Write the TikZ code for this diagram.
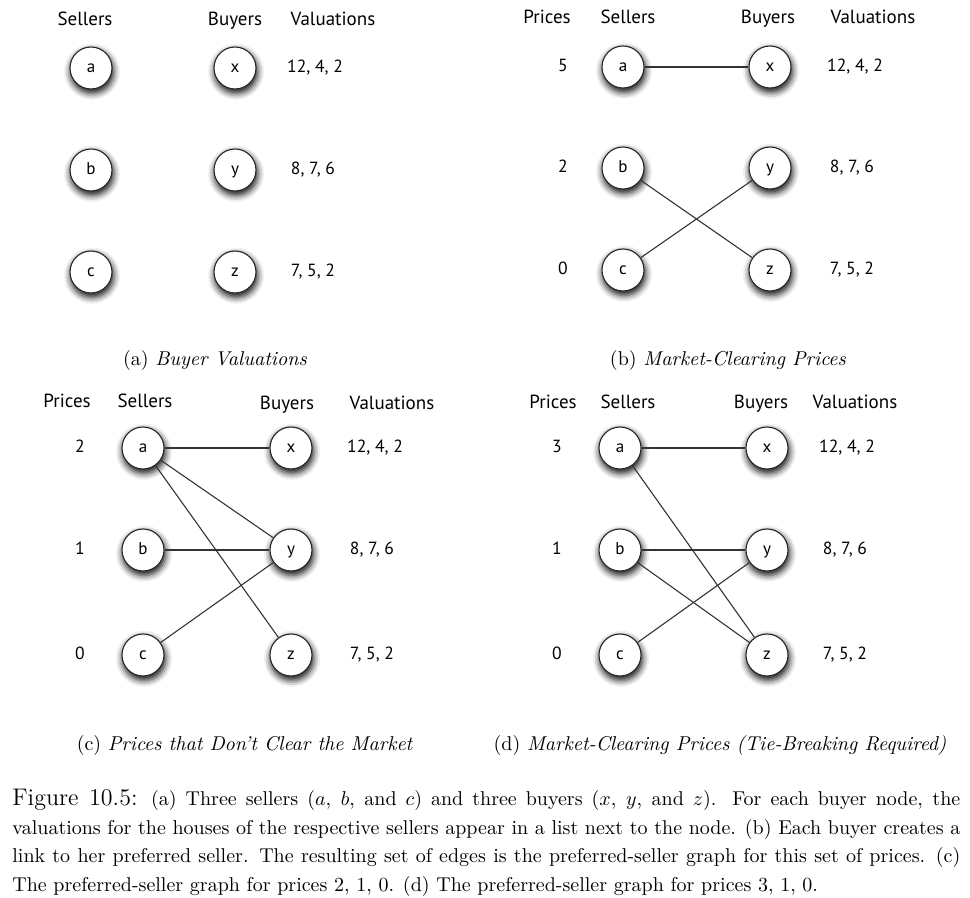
\documentclass[tikz,border=0pt]{standalone}
\usepackage{fontspec}
\newfontfamily\panelfont{PT Sans}
\usetikzlibrary{shadows.blur}
\begin{document}
\begin{tikzpicture}[x=0.5pt,y=-0.5pt,
  vert/.style={circle,draw=black!85,line width=0.55pt,fill=white,minimum size=21pt,inner sep=0pt,
    text height=1.05ex,text depth=0pt,
    font=\panelfont\fontsize{8.5}{9}\selectfont,
    blur shadow={shadow xshift=0.5pt,shadow yshift=-1.8pt,shadow scale=1.04,shadow blur radius=3pt,shadow opacity=90}},
  hdr/.style={font=\panelfont\fontsize{9.5}{11}\selectfont,inner sep=0pt,text height=1.5ex,text depth=0.35ex,yshift=-1.2pt},
  val/.style={font=\panelfont\fontsize{8.8}{10}\selectfont,inner sep=0pt,text height=1.45ex,text depth=0.3ex},
  edge/.style={draw=black!80,line width=0.55pt},
  sub/.style={font=\fontsize{10}{12}\selectfont,inner sep=0pt}]
\useasboundingbox (0,0) rectangle (970,898);
% ---------- panel (a)
\node[hdr] (ha1) at (85,18) {Sellers};
\node[hdr] (ha2) at (235,18) {Buyers};
\node[hdr] (ha3) at (333,18) {Valuations};
\node[vert] (aa) at (91,68) {a};
\node[vert] (ab) at (91,170) {b};
\node[vert] (ac) at (91,272) {c};
\node[vert] (ax) at (235,68) {x};
\node[vert] (ay) at (235,170) {y};
\node[vert] (az) at (235,272) {z};
\node[val] (av1) at (315,68) {12, 4, 2};
\node[val] (av2) at (313,170) {8, 7, 6};
\node[val] (av3) at (313,272) {7, 5, 2};
\node[sub] (capa) at (215,361) {(a) \textit{Buyer Valuations}};
% ---------- panel (b)
\node[hdr] (hb0) at (547,16) {Prices};
\node[hdr] (hb1) at (628,16) {Sellers};
\node[hdr] (hb2) at (768,16) {Buyers};
\node[hdr] (hb3) at (873,16) {Valuations};
\node[val] (bp1) at (563,67) {5};
\node[val] (bp2) at (563,168) {2};
\node[val] (bp3) at (563,270) {0};
\node[vert] (ba) at (623,67) {a};
\node[vert] (bb) at (623,168) {b};
\node[vert] (bc) at (623,270) {c};
\node[vert] (bx) at (770,67) {x};
\node[vert] (by) at (770,168) {y};
\node[vert] (bz) at (770,270) {z};
\node[val] (bv1) at (855,67) {12, 4, 2};
\node[val] (bv2) at (852,168) {8, 7, 6};
\node[val] (bv3) at (852,270) {7, 5, 2};
\node[sub] (capb) at (728,361) {(b) \textit{Market-Clearing Prices}};
% ---------- panel (c)
\node[hdr] (hc0) at (67,400) {Prices};
\node[hdr] (hc1) at (145,400) {Sellers};
\node[hdr] (hc2) at (287,402) {Buyers};
\node[hdr] (hc3) at (392,402) {Valuations};
\node[val] (cp1) at (80,448) {2};
\node[val] (cp2) at (80,550) {1};
\node[val] (cp3) at (80,655) {0};
\node[vert] (ca) at (143,448) {a};
\node[vert] (cb) at (143,550) {b};
\node[vert] (cc) at (143,655) {c};
\node[vert] (cx) at (291,448) {x};
\node[vert] (cy) at (291,550) {y};
\node[vert] (cz) at (291,655) {z};
\node[val] (cv1) at (375,448) {12, 4, 2};
\node[val] (cv2) at (372,550) {8, 7, 6};
\node[val] (cv3) at (372,655) {7, 5, 2};
\node[sub] (capc) at (245,745) {(c) \textit{Prices that Don't Clear the Market}};
% ---------- panel (d)
\node[hdr] (hd0) at (553,401) {Prices};
\node[hdr] (hd1) at (628,401) {Sellers};
\node[hdr] (hd2) at (761,401) {Buyers};
\node[hdr] (hd3) at (855,401) {Valuations};
\node[val] (dp1) at (557,448) {3};
\node[val] (dp2) at (557,550) {1};
\node[val] (dp3) at (557,655) {0};
\node[vert] (da) at (620,448) {a};
\node[vert] (db) at (620,550) {b};
\node[vert] (dc) at (620,655) {c};
\node[vert] (dx) at (767,448) {x};
\node[vert] (dy) at (767,550) {y};
\node[vert] (dz) at (767,655) {z};
\node[val] (dv1) at (847,448) {12, 4, 2};
\node[val] (dv2) at (845,550) {8, 7, 6};
\node[val] (dv3) at (845,655) {7, 5, 2};
\node[sub] (capd) at (720,745) {(d) \textit{Market-Clearing Prices (Tie-Breaking Required)}};
% ---------- edges
\draw[edge] (ba) -- (bx);
\draw[edge] (bb) -- (bz);
\draw[edge] (bc) -- (by);
\draw[edge] (ca) -- (cx);
\draw[edge] (ca) -- (cy);
\draw[edge] (ca) -- (cz);
\draw[edge] (cb) -- (cy);
\draw[edge] (cc) -- (cy);
\draw[edge] (da) -- (dx);
\draw[edge] (da) -- (dz);
\draw[edge] (db) -- (dy);
\draw[edge] (db) -- (dz);
\draw[edge] (dc) -- (dy);
% ---------- figure caption
\node[anchor=north west,inner sep=0pt,text width=474pt,align=justify,
  font=\fontsize{10}{14.25}\selectfont] (figcap) at (12,789)
{\hyphenpenalty=10000 {\fontsize{12}{14.25}\selectfont Figure 10.5:} (a) Three sellers ($a$, $b$, and $c$) and three buyers ($x$, $y$, and $z$). For each buyer node, the\linebreak
valuations for the houses of the respective sellers appear in a list next to the node. (b) Each buyer creates a\linebreak
link to her preferred seller. The resulting set of edges is the preferred-seller graph for this set of prices. (c)\linebreak
The preferred-seller graph for prices 2, 1, 0. (d) The preferred-seller graph for prices 3, 1, 0.};
\end{tikzpicture}
\end{document}
